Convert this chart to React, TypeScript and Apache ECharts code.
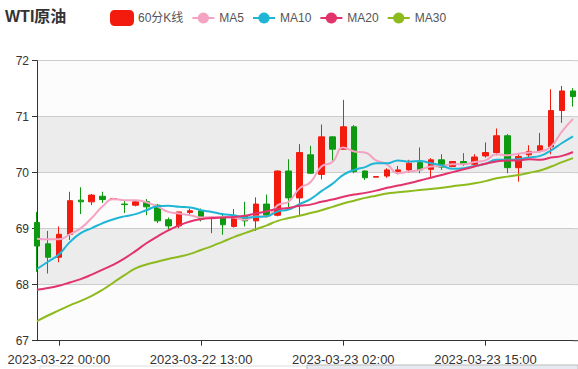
import React, { useEffect, useRef } from "react";
import * as echarts from "echarts";

const categories = [
  "2023-03-21 22:00", "2023-03-21 23:00", "2023-03-22 00:00", "2023-03-22 01:00", "2023-03-22 02:00",
  "2023-03-22 03:00", "2023-03-22 04:00", "2023-03-22 05:00", "2023-03-22 06:00", "2023-03-22 07:00",
  "2023-03-22 08:00", "2023-03-22 09:00", "2023-03-22 10:00", "2023-03-22 11:00", "2023-03-22 12:00",
  "2023-03-22 13:00", "2023-03-22 14:00", "2023-03-22 15:00", "2023-03-22 16:00", "2023-03-22 17:00",
  "2023-03-22 18:00", "2023-03-22 19:00", "2023-03-22 20:00", "2023-03-22 21:00", "2023-03-22 22:00",
  "2023-03-22 23:00", "2023-03-23 00:00", "2023-03-23 01:00", "2023-03-23 02:00", "2023-03-23 03:00",
  "2023-03-23 04:00", "2023-03-23 05:00", "2023-03-23 06:00", "2023-03-23 07:00", "2023-03-23 08:00",
  "2023-03-23 09:00", "2023-03-23 10:00", "2023-03-23 11:00", "2023-03-23 12:00", "2023-03-23 13:00",
  "2023-03-23 14:00", "2023-03-23 15:00", "2023-03-23 16:00", "2023-03-23 17:00", "2023-03-23 18:00",
  "2023-03-23 19:00", "2023-03-23 20:00", "2023-03-23 21:00", "2023-03-23 22:00", "2023-03-23 23:00",
];

// [open, close, low, high]
const candles = [
  [69.11, 68.69, 68.23, 69.3], [68.73, 68.49, 68.2, 68.96], [68.49, 68.9, 68.4, 69.04], [68.9, 69.5, 68.8, 69.66],
  [69.51, 69.48, 69.26, 69.74], [69.48, 69.6, 69.42, 69.62], [69.58, 69.52, 69.46, 69.66], [69.52, 69.54, 69.52, 69.55],
  [69.44, 69.43, 69.28, 69.5], [69.42, 69.48, 69.4, 69.5], [69.48, 69.39, 69.24, 69.53], [69.42, 69.14, 69.1, 69.44],
  [69.16, 69.05, 68.99, 69.2], [69.05, 69.3, 69.01, 69.3], [69.29, 69.32, 69.23, 69.36], [69.32, 69.17, 69.13, 69.36],
  [69.18, 69.2, 68.92, 69.21], [69.21, 69.07, 68.89, 69.28], [69.04, 69.23, 69.02, 69.35], [69.23, 69.14, 69.04, 69.48],
  [69.14, 69.44, 68.96, 69.56], [69.44, 69.24, 69.2, 69.61], [69.24, 70.03, 69.22, 70.04], [70.03, 69.55, 69.36, 70.24],
  [69.55, 70.36, 69.23, 70.51], [70.32, 69.99, 69.98, 70.48], [69.97, 70.64, 69.88, 70.86], [70.64, 70.42, 70.21, 70.65],
  [70.42, 70.82, 70.41, 71.3], [70.82, 70.02, 69.99, 70.85], [70.03, 69.91, 69.87, 70.04], [69.92, 69.93, 69.92, 69.93],
  [69.94, 70.05, 69.91, 70.08], [70.02, 70.05, 69.97, 70.12], [70.05, 70.17, 70.0, 70.23], [70.18, 70.05, 69.99, 70.45],
  [70.06, 70.23, 69.92, 70.26], [70.23, 70.1, 70.05, 70.33], [70.11, 70.2, 70.11, 70.2], [70.2, 70.15, 70.12, 70.35],
  [70.15, 70.28, 70.12, 70.33], [70.3, 70.36, 70.27, 70.54], [70.36, 70.66, 70.31, 70.79], [70.66, 70.09, 69.99, 70.69],
  [70.09, 70.29, 69.84, 70.35], [70.32, 70.38, 70.26, 70.49], [70.38, 70.48, 70.36, 70.71], [70.46, 71.11, 70.33, 71.49],
  [71.11, 71.46, 70.89, 71.55], [71.46, 71.36, 71.18, 71.51],
];

const ma5 = [
  68.82, 68.81, 68.81, 68.9, 69.01, 69.19, 69.4, 69.53, 69.51, 69.51,
  69.47, 69.4, 69.3, 69.27, 69.24, 69.2, 69.21, 69.21, 69.2, 69.16,
  69.22, 69.22, 69.42, 69.48, 69.72, 69.83, 70.11, 70.19, 70.45, 70.38,
  70.36, 70.22, 70.15, 69.99, 70.02, 70.05, 70.11, 70.12, 70.15, 70.15,
  70.19, 70.22, 70.33, 70.31, 70.34, 70.36, 70.38, 70.47, 70.74, 70.96,
];
const ma10 = [
  68.28, 68.41, 68.54, 68.76, 68.92, 69.01, 69.1, 69.17, 69.22, 69.26,
  69.33, 69.4, 69.41, 69.39, 69.38, 69.33, 69.3, 69.26, 69.24, 69.2,
  69.21, 69.22, 69.31, 69.34, 69.44, 69.53, 69.67, 69.8, 69.96, 70.05,
  70.1, 70.17, 70.17, 70.22, 70.2, 70.21, 70.17, 70.13, 70.07, 70.08,
  70.12, 70.16, 70.23, 70.23, 70.24, 70.27, 70.3, 70.4, 70.53, 70.65,
];
const ma20 = [
  67.91, 67.94, 67.98, 68.04, 68.1, 68.18, 68.27, 68.36, 68.47, 68.6,
  68.74, 68.86, 68.97, 69.06, 69.13, 69.17, 69.19, 69.2, 69.21, 69.23,
  69.27, 69.31, 69.35, 69.37, 69.41, 69.43, 69.48, 69.52, 69.57, 69.61,
  69.64, 69.68, 69.73, 69.77, 69.81, 69.86, 69.91, 69.96, 70.01, 70.06,
  70.11, 70.16, 70.2, 70.22, 70.22, 70.24, 70.23, 70.27, 70.3, 70.37,
];
const ma30 = [
  67.35, 67.45, 67.54, 67.63, 67.71, 67.8, 67.91, 68.04, 68.17, 68.29,
  68.36, 68.41, 68.46, 68.5, 68.55, 68.62, 68.69, 68.77, 68.85, 68.92,
  68.99, 69.06, 69.14, 69.19, 69.23, 69.28, 69.33, 69.39, 69.45, 69.5,
  69.55, 69.59, 69.63, 69.65, 69.67, 69.69, 69.71, 69.73, 69.76, 69.78,
  69.81, 69.85, 69.9, 69.93, 69.96, 70.0, 70.04, 70.11, 70.19, 70.26,
];

const UP = "#f21b0d";
const DOWN = "#0e9a10";
const FONT = '"Liberation Sans", "Noto Sans CJK SC", sans-serif';
const BAND_LIGHT = "#fcfcfc";
const BAND_DARK = "#ececec";

export default function App() {
  const ref = useRef<HTMLDivElement>(null);
  useEffect(() => {
    if (!ref.current) return;
    const chart = echarts.init(ref.current, undefined, { renderer: "svg" });
    const lineSeries = (name: string, data: number[], color: string) => ({
      name,
      type: "line",
      data,
      smooth: true,
      symbol: "circle",
      symbolSize: 8,
      showSymbol: false,
      lineStyle: { width: 2, color },
      itemStyle: { color },
      z: 3,
    });
    // continuation of the plot background past the last candle (right edge strip)
    const stripX = 573;
    const stripW = 5;
    const top = 60.7;
    const unit = 56;
    const strip: any[] = [];
    for (let k = 0; k < 5; k++) {
      strip.push({
        type: "rect",
        silent: true,
        z: -10,
        shape: { x: stripX, y: top + k * unit, width: stripW, height: unit },
        style: { fill: k % 2 === 0 ? BAND_LIGHT : BAND_DARK },
      });
      strip.push({
        type: "line",
        silent: true,
        z: -9,
        shape: { x1: stripX, y1: top + k * unit, x2: stripX + stripW, y2: top + k * unit },
        style: { stroke: "#ccc", lineWidth: 1 },
      });
    }
    strip.push({
      type: "line",
      silent: true,
      shape: { x1: stripX, y1: top + 5 * unit, x2: stripX + stripW, y2: top + 5 * unit },
      style: { stroke: "#333", lineWidth: 1 },
    });
    chart.setOption({
      animation: false,
      textStyle: { fontFamily: FONT },
      title: {
        text: "WTI原油",
        left: 5,
        top: 8,
        padding: 0,
        textStyle: { fontSize: 16, fontWeight: "bold", color: "#333", fontFamily: FONT },
      },
      legend: {
        left: 110,
        top: 10,
        padding: 0,
        itemWidth: 22,
        itemHeight: 14,
        itemGap: 8,
        textStyle: { fontSize: 12, color: "#555", fontFamily: FONT },
        data: [
          { name: "60分K线", icon: "roundRect" },
          "MA5",
          "MA10",
          "MA20",
          "MA30",
        ],
      },
      grid: { left: 37, right: 5, top: 60.7, bottom: 28.3 },
      xAxis: {
        type: "category",
        data: categories,
        boundaryGap: false,
        axisLine: { lineStyle: { color: "#333" } },
        axisTick: { interval: (i: number) => i % 13 === 2, length: 5, lineStyle: { color: "#333" } },
        axisLabel: {
          interval: (i: number) => i % 13 === 2,
          color: "#333",
          fontSize: 13,
          margin: 12,
          fontFamily: FONT,
        },
        splitLine: { show: false },
      },
      yAxis: {
        type: "value",
        min: 67,
        max: 72,
        interval: 1,
        axisLine: { show: true, lineStyle: { color: "#333" } },
        axisTick: { show: true, length: 5, lineStyle: { color: "#333" } },
        axisLabel: { color: "#333", fontSize: 12, margin: 8, fontFamily: FONT },
        splitLine: { show: true, lineStyle: { color: "#ccc" } },
        splitArea: { show: true, areaStyle: { color: [BAND_LIGHT, BAND_DARK] } },
      },
      graphic: [
        ...strip,
        {
          type: "rect",
          shape: { x: 40, y: 366, width: 538, height: 20 },
          style: { fill: "#fff", stroke: "#ddd", lineWidth: 1 },
        },
        {
          type: "rect",
          shape: { x: 307, y: 365, width: 271, height: 20 },
          style: { fill: "#e7ebf1", stroke: "#bbb", lineWidth: 1 },
        },
      ],
      series: [
        {
          name: "60分K线",
          type: "candlestick",
          data: candles,
          barWidth: 6,
          clip: false,
          itemStyle: {
            color: UP,
            color0: DOWN,
            borderColor: UP,
            borderColor0: DOWN,
            borderWidth: 1,
          },
          z: 2,
        },
        lineSeries("MA5", ma5, "#f5a3c3"),
        lineSeries("MA10", ma10, "#1fb6d6"),
        lineSeries("MA20", ma20, "#e2336c"),
        lineSeries("MA30", ma30, "#8dba1c"),
      ],
    });
    return () => chart.dispose();
  }, []);
  return <div ref={ref} style={{ width: 578, height: 369, position: "absolute", left: 0, top: 0 }} />;
}
